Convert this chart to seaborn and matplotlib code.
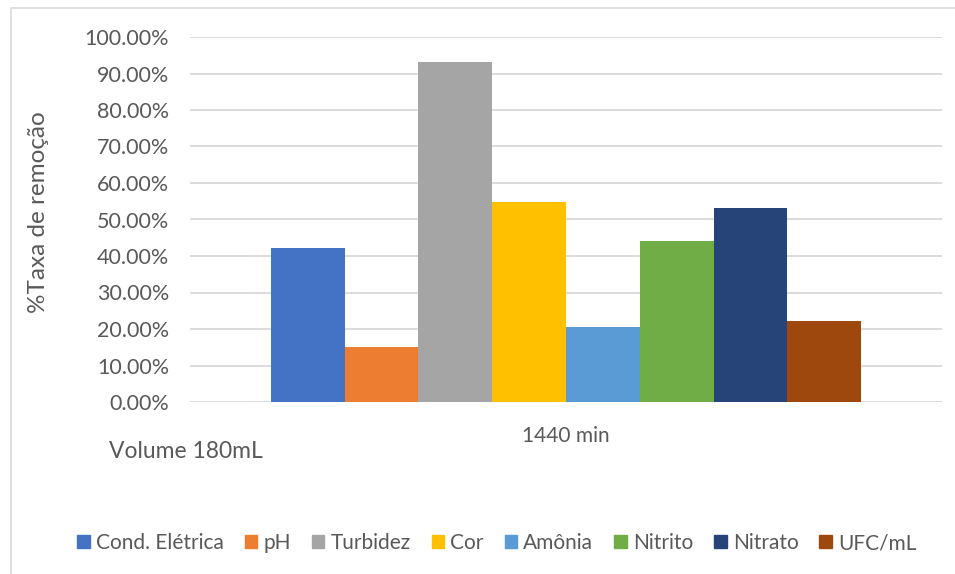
import matplotlib
matplotlib.use("Agg")
import matplotlib.pyplot as plt
import matplotlib.patches as mpatches
from matplotlib.ticker import FuncFormatter, MultipleLocator
import seaborn as sns
import pandas as pd

# Removal rate per parameter (fraction), 1440 min, volume 180 mL
parametros = ["Cond. Elétrica", "pH", "Turbidez", "Cor", "Amônia",
              "Nitrito", "Nitrato", "UFC/mL"]
taxa_remocao = [0.4228, 0.1516, 0.9324, 0.5489, 0.2064, 0.4420, 0.5324, 0.2228]
tempo = ["1440 min"]
cores = ["#4472C4", "#ED7D31", "#A5A5A5", "#FFC000", "#5B9BD5",
         "#70AD47", "#264478", "#9E480E"]

df = pd.DataFrame({"tempo": tempo * len(parametros),
                   "parametro": parametros,
                   "taxa": taxa_remocao})

sns.set_theme(style="white")
plt.rcParams["font.family"] = ["Lato", "DejaVu Sans"]
texto = "#595959"

fig = plt.figure(figsize=(9.55, 5.74), dpi=100)
W, H = 955, 574
ax = fig.add_axes([190 / W, 1 - 402 / H, (942 - 190) / W, (402 - 37) / H])

sns.barplot(data=df, x="tempo", y="taxa", hue="parametro",
            hue_order=parametros, palette=cores, width=0.785, gap=0,
            saturation=1, ax=ax, legend=False, errorbar=None, linewidth=0)

ax.set_xlim(-0.5, 0.5)
ax.set_ylim(0, 1.0)
ax.yaxis.set_major_locator(MultipleLocator(0.1))
ax.yaxis.set_major_formatter(FuncFormatter(lambda v, _: f"{v * 100:.2f}%"))
ax.yaxis.grid(True, color="#D9D9D9", linewidth=1.3)
ax.set_axisbelow(True)
for s in ax.spines.values():
    s.set_visible(False)
ax.tick_params(axis="y", length=0, pad=15, labelsize=15.5, labelcolor=texto)
ax.tick_params(axis="x", length=0, pad=17, labelsize=15, labelcolor=texto)
ax.set_xlabel("")
ax.set_ylabel("%Taxa de remoção", fontsize=17.5, color=texto)
ax.yaxis.set_label_coords(-0.188, 0.52)

fig.text(186 / W, 1 - 452 / H, "Volume 180mL", fontsize=16.5, color=texto,
         ha="center", va="center")

handles = [mpatches.Patch(color=c, label=p) for p, c in zip(parametros, cores)]
fig.legend(handles=handles, loc="center", bbox_to_anchor=(497 / W, 1 - 543 / H),
           ncol=len(parametros), frameon=False, fontsize=15,
           handlelength=0.6, handleheight=0.6, handletextpad=0.3,
           columnspacing=1.0, labelcolor=texto)

# chart frame
fig.patches.append(mpatches.Rectangle((11 / W, -0.05), 1.2, 1 - 8 / H + 0.05,
                                      transform=fig.transFigure, fill=False,
                                      edgecolor="#D9D9D9", linewidth=1.2))

fig.savefig("out.png", dpi=100, facecolor="white")
